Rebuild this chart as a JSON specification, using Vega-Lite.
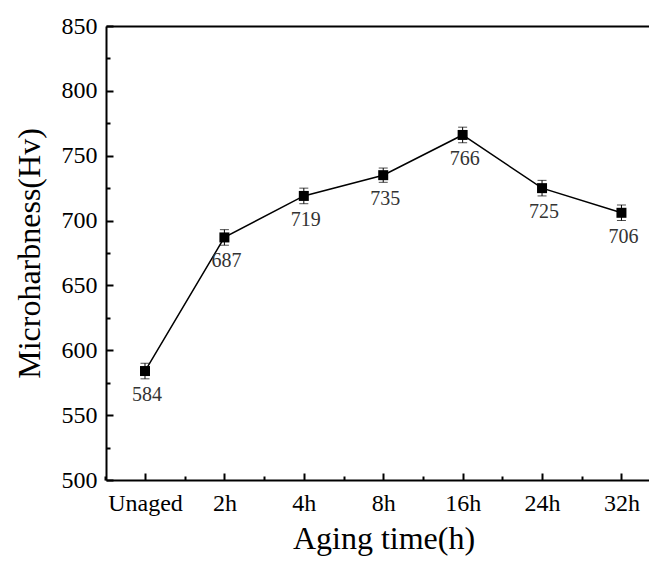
{
  "$schema": "https://vega.github.io/schema/vega-lite/v6.json",
  "width": 543,
  "height": 454,
  "autosize": {"type": "none"},
  "padding": {"left": 106, "top": 26, "right": 0, "bottom": 83},
  "background": "white",
  "config": {
    "view": {"stroke": null},
    "axis": {
      "labelFont": "Liberation Serif",
      "titleFont": "Liberation Serif",
      "labelColor": "black",
      "titleColor": "black",
      "domainColor": "black",
      "tickColor": "black",
      "domainWidth": 2,
      "tickWidth": 2,
      "grid": false,
      "titleFontWeight": "normal"
    }
  },
  "data": {
    "values": [
      {"cond": "Unaged", "hv": 584, "err": 6},
      {"cond": "2h", "hv": 687, "err": 6},
      {"cond": "4h", "hv": 719, "err": 6},
      {"cond": "8h", "hv": 735, "err": 5.5},
      {"cond": "16h", "hv": 766, "err": 6},
      {"cond": "24h", "hv": 725, "err": 6},
      {"cond": "32h", "hv": 706, "err": 6}
    ]
  },
  "layer": [
    {
      "mark": {"type": "line", "color": "black", "strokeWidth": 1.5},
      "encoding": {
        "x": {
          "field": "cond", "type": "ordinal", "sort": null,
          "scale": {"type": "point", "padding": 0.419, "align": 0.586},
          "axis": {
            "orient": "bottom",
            "title": "Aging time(h)", "labelAngle": 0,
            "ticks": true, "tickSize": -7, "tickColor": "black", "tickWidth": 2,
            "labelFontSize": 24, "titleFontSize": 32, "titleX": 277.5,
            "labelPadding": 18, "titlePadding": 8
          }
        },
        "y": {
          "field": "hv", "type": "quantitative",
          "scale": {"domain": [500, 850], "nice": false, "zero": false},
          "axis": {
            "orient": "left",
            "values": [500, 550, 600, 650, 700, 750, 800, 850],
            "ticks": true, "tickSize": -7, "tickColor": "black", "tickWidth": 2,
            "labelFontSize": 24, "titleFontSize": 32, "labelPadding": 16, "titlePadding": 15,
            "title": "Microharbness(Hv)"
          }
        }
      }
    },
    {
      "mark": {"type": "errorbar", "ticks": {"size": 9, "color": "black"}, "rule": {"color": "black", "strokeWidth": 1}},
      "encoding": {
        "x": {"field": "cond", "type": "ordinal", "sort": null, "axis": null},
        "y": {"field": "hv", "type": "quantitative", "axis": null},
        "yError": {"field": "err"}
      }
    },
    {
      "mark": {"type": "point", "shape": "square", "filled": true, "size": 100, "color": "black", "opacity": 1},
      "encoding": {
        "x": {
          "field": "cond", "type": "ordinal", "sort": null,
          "axis": {"orient": "bottom", "ticks": true, "tickSize": -4, "tickColor": "black", "tickWidth": 2, "tickOffset": -39.7, "domain": false, "labels": false, "title": null}
        },
        "y": {
          "field": "hv", "type": "quantitative",
          "axis": {"orient": "left", "ticks": true, "tickSize": -4, "tickColor": "black", "tickWidth": 2, "values": [525, 575, 625, 675, 725, 775, 825], "domain": false, "labels": false, "title": null}
        }
      }
    },
    {
      "mark": {"type": "text", "dy": 30, "dx": 2, "fontSize": 20, "font": "Liberation Serif", "color": "#333", "baseline": "alphabetic"},
      "encoding": {
        "x": {
          "field": "cond", "type": "ordinal", "sort": null,
          "axis": {"orient": "top", "labels": false, "ticks": false, "domain": true, "title": null}
        },
        "y": {"field": "hv", "type": "quantitative", "axis": null},
        "text": {"field": "hv", "type": "quantitative", "format": "d"}
      }
    }
  ],
  "resolve": {"axis": {"x": "independent", "y": "independent"}}
}
